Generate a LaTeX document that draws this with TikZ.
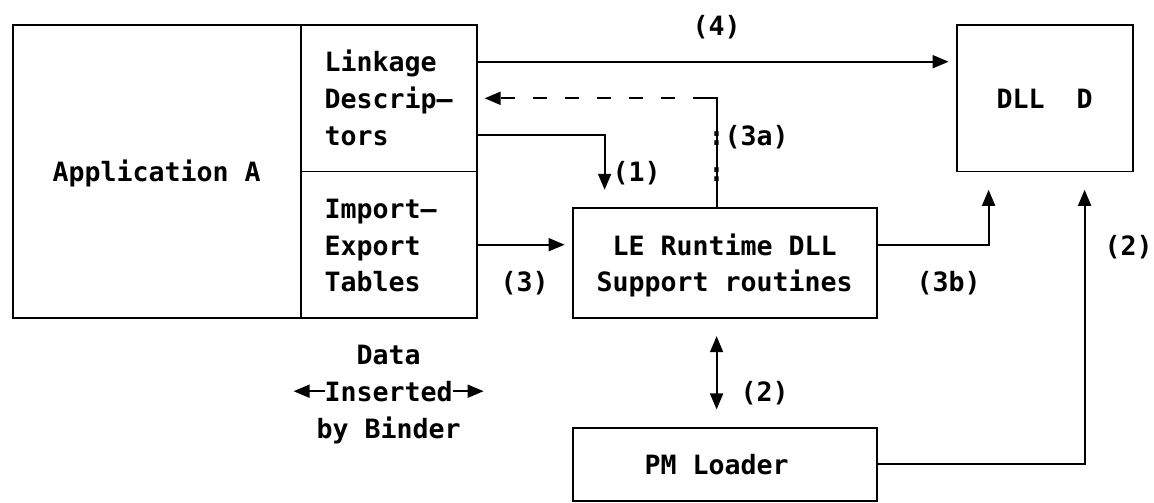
\documentclass[tikz,border=0pt]{standalone}
\usepackage{fontspec}
\setmainfont{DejaVu Sans Mono}
\usetikzlibrary{arrows.meta}
\tikzset{
  box/.style={draw, line width=1.8pt, inner sep=0pt, outer sep=0pt, anchor=north west},
  conn/.style={line width=1.8pt},
  tipA/.tip={Triangle[length=16pt,width=13pt]},
  arr/.style={conn, -tipA},
  darr/.style={conn, tipA-tipA},
  txt/.style={anchor=base west, inner sep=0pt, outer sep=0pt, font=\bfseries\fontsize{26.58}{36.6}\selectfont},
  ctxt/.style={txt, anchor=base},
}
\begin{document}
\begin{tikzpicture}[x=1pt,y=-1pt]
\useasboundingbox (0,0) rectangle (1154,503);
% boxes
\node[box, minimum width=464pt, minimum height=292.8pt] (app) at (12.6,25.1) {};
\node[box, minimum width=176pt, minimum height=146.4pt] (dll) at (956.6,25.1) {};
\node[box, minimum width=304pt, minimum height=109.8pt] (le) at (572.6,208.1) {};
\node[box, minimum width=304pt, minimum height=73.2pt] (pm) at (572.6,427.7) {};
\coordinate (divtop) at (300.6,25.1);
\draw[conn] (divtop) -- (divtop |- app.south);
\draw[conn] (divtop |- 0,171.5) -- (app.east |- 0,171.5);
% texts
\node[ctxt] (tApp) at (156.6,181.8) {Application A};
\node[txt] (tL1) at (324.6,72.0) {Linkage};
\node[txt] (tL2) at (324.6,108.6) {Descrip—};
\node[txt] (tL3) at (324.6,145.2) {tors};
\node[txt] (tI1) at (324.6,218.4) {Import—};
\node[txt] (tI2) at (324.6,255.0) {Export};
\node[txt] (tI3) at (324.6,291.6) {Tables};
\node[txt] (t4) at (692.6,35.4) {(4)};
\node[txt] (tDLL) at (996.6,108.6) {DLL\ \ D};
\node[txt] (t3a) at (708.6,145.2) {:(3a)};
\node[txt] (tcol) at (708.6,181.8) {:};
\node[txt] (t1) at (612.6,181.8) {(1)};
\node[txt] (tLE1) at (612.6,255.0) {LE Runtime DLL};
\node[txt] (tLE2) at (596.6,291.6) {Support routines};
\node[txt] (t3) at (500.6,291.6) {(3)};
\node[txt] (t3b) at (916.6,291.6) {(3b)};
\node[txt] (t2r) at (1104.6,255.0) {(2)};
\node[txt] (t2m) at (740.6,401.5) {(2)};
\node[ctxt] (tData) at (388.6,364.9) {Data};
\node[txt] (tIns) at (324.6,401.5) {Inserted};
\node[txt] (tBy) at (316.6,438.1) {by Binder};
\node[txt] (tPM) at (644.6,474.7) {PM Loader};
% connectors
\draw[arr, shorten >=8pt] (app.east |- 0,61.7) -- (dll.west |- 0,61.7);
\draw[conn] (le.north -| 716.6,0) -- ++(0,-17.1);
\draw[conn] (le.north -| 716.6,116.6) -- (716.6,98.3) -- (692.6,98.3);
\draw[arr, dash pattern=on 14pt off 18pt, shorten >=8pt] (674.6,98.3) -- (app.east |- 0,98.3);
\draw[arr, shorten >=18.3pt] (app.east |- 0,134.9) -| (le.north -| 604.6,0);
\draw[arr, shorten >=8pt] (app.east |- 0,244.7) -- (le.west |- 0,244.7);
\draw[arr, shorten >=18.3pt] (le.east |- 0,244.7) -| (dll.south -| 988.6,0);
\draw[arr, shorten >=18.3pt] (pm.east |- 0,464.3) -| (dll.south -| 1084.6,0);
\draw[darr, shorten <=18.3pt, shorten >=18.3pt] (le.south -| 716.6,0) -- (pm.north -| 716.6,0);
\draw[arr] (tIns.west |- 0,391.2) -- ++(-31,0);
\draw[arr] (tIns.east |- 0,391.2) -- ++(31,0);
\end{tikzpicture}
\end{document}
